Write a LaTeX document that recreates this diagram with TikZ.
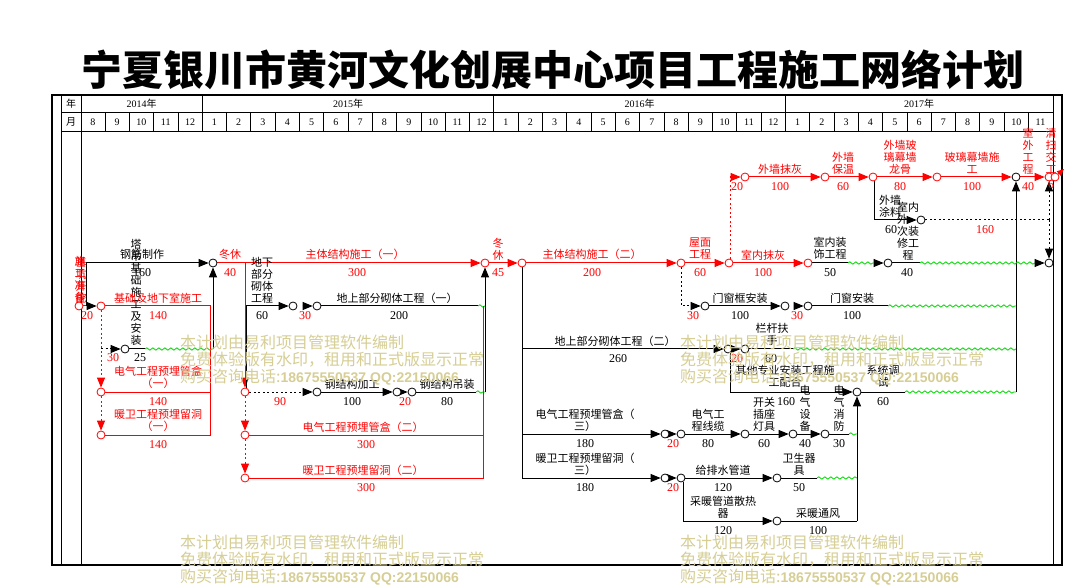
\documentclass[tikz,border=0pt]{standalone}
\usepackage{fontspec}
\setmainfont{Liberation Serif}
\newfontfamily\cjk{Noto Sans CJK SC}
\newfontfamily\wsans{Liberation Sans}
\usetikzlibrary{arrows.meta,decorations.pathmorphing}
\definecolor{wgreen}{RGB}{0,215,0}
\definecolor{wmark}{RGB}{214,206,148}
\pgfdeclarelayer{bg}
\pgfsetlayers{bg,main}
\tikzset{
  ev/.style={circle,fill=white,minimum size=8pt,inner sep=0pt,line width=0.8pt},
  evR/.style={ev,draw=red},
  evK/.style={ev,draw=black},
  lnK/.style={draw=black,line width=1pt},
  lnR/.style={draw=red,line width=1pt},
  tipK/.style={-{Triangle[length=10pt,width=8pt]}},
  arK/.style={lnK,tipK},
  arR/.style={lnR,tipK},
  dotK/.style={lnK,dash pattern=on 2pt off 2.5pt},
  dotR/.style={lnR,dash pattern=on 2pt off 2.5pt},
  wav/.style={draw=wgreen,line width=0.8pt,decorate,decoration={snake,segment length=6pt,amplitude=1.2pt}},
  lbK/.style={font=\cjk\fontsize{11}{12}\selectfont,align=center,inner sep=0pt,text=black},
  lbR/.style={lbK,text=red},
  nmK/.style={font=\fontsize{12}{12}\selectfont,inner sep=0pt,text=black},
  nmR/.style={nmK,text=red},
  hdr/.style={font=\fontsize{10}{10}\selectfont,inner sep=0pt},
  wm/.style={anchor=west,inner sep=0pt,text=wmark,font=\cjk\fontsize{16}{16}\selectfont},
  thinln/.style={line width=0.7pt},
  thickln/.style={line width=2.5pt},
}
\begin{document}
\begin{tikzpicture}[x=1pt,y=-1pt]
\useasboundingbox (0,0) rectangle (1066,585);
\begin{pgfonlayer}{bg}
\fill[white] (0,0) rectangle (1066,585);
\end{pgfonlayer}
% title
\node[font=\cjk\bfseries\fontsize{41}{41}\selectfont,inner sep=0pt] (title) at (553,70) {宁夏银川市黄河文化创展中心项目工程施工网络计划};
% frame
\draw[thickln] (51,95) -- (1063,95);
\draw[thickln] (52,95) -- (52,565);
\draw[thickln] (51,565) -- (1063,565);
\draw[line width=2pt] (1062,95) -- (1062,565);
\draw[thinln] (61,95) -- (61,565);
\draw[thinln] (81,95) -- (81,565);
\draw[thinln] (1053,95) -- (1053,565);
\draw[thinln] (61,112) -- (1053,112);
\draw[thinln] (61,131) -- (1053,131);
\foreach \k in {1,...,39} \draw[thinln] ({80.7+24.3*\k},112) -- ({80.7+24.3*\k},131);
\foreach \k in {5,17,29} \draw[thinln] ({80.7+24.3*\k},95) -- ({80.7+24.3*\k},112);
\node[hdr,font=\cjk\fontsize{10}{10}\selectfont] (hy) at (71,103.5) {年};
\node[hdr,font=\cjk\fontsize{10}{10}\selectfont] (hm) at (71,122) {月};
\node[hdr] (y14) at (141.5,103.5) {2014{\cjk 年}};
\node[hdr] (y15) at (348,103.5) {2015{\cjk 年}};
\node[hdr] (y16) at (639.6,103.5) {2016{\cjk 年}};
\node[hdr] (y17) at (919,103.5) {2017{\cjk 年}};
\foreach \m [count=\k from 0] in {8,9,10,11,12,1,2,3,4,5,6,7,8,9,10,11,12,1,2,3,4,5,6,7,8,9,10,11,12,1,2,3,4,5,6,7,8,9,10,11}
  \node[hdr] (mo\k) at ({92.85+24.3*\k},122) {\m};

% ---------- events ----------
\node[evR] (s0) at (79,306) {};
\node[evR] (s1) at (101,306) {};
\node[evR] (s2) at (101,392) {};
\node[evR] (s3) at (101,435) {};
\node[evK] (td) at (125,349) {};
\node[evK] (w1) at (213,263) {};
\node[evR] (r1) at (245,392) {};
\node[evR] (r2) at (245,435) {};
\node[evR] (r3) at (245,478) {};
\node[evK] (b1) at (293,306) {};
\node[evK] (b2) at (317,306) {};
\node[evK] (b3) at (317,392) {};
\node[evK] (b4) at (397,392) {};
\node[evK] (b5) at (412,392) {};
\node[evR] (m1) at (485,263) {};
\node[evR] (m2) at (522,263) {};
\node[evR] (m3) at (681,263) {};
\node[evR] (m4) at (729,263) {};
\node[evR] (m5) at (808,263) {};
\node[evK] (c1) at (888,263) {};
\node[evK] (c2) at (1049,263) {};
\node[evK] (d1) at (705,306) {};
\node[evK] (d2) at (785,306) {};
\node[evK] (d3) at (808,306) {};
\node[evK] (e1) at (728,349) {};
\node[evK] (e2) at (745,349) {};
\node[evK] (f1) at (857,392) {};
\node[evK] (g1) at (665,434) {};
\node[evK] (g2) at (681,434) {};
\node[evK] (g3) at (745,434) {};
\node[evK] (g4) at (793,434) {};
\node[evK] (g5) at (825,434) {};
\node[evK] (h1) at (665,478) {};
\node[evK] (h2) at (681,478) {};
\node[evK] (h3) at (777,478) {};
\node[evK] (i1) at (777,521) {};
\node[evR] (a1) at (745,177) {};
\node[evR] (a2) at (825,177) {};
\node[evR] (a3) at (873,177) {};
\node[evR] (a4) at (937,177) {};
\node[evK] (t4) at (1016,177) {};
\node[evR] (t5) at (1049,177) {};
\node[evR] (t6) at (1055,177) {};
\node[evK] (b6) at (921,220) {};

% ---------- coordinates ----------
\coordinate (gjS) at (86,306);
\coordinate (j1) at (210.5,306);
\coordinate (j2) at (210.5,435);
\coordinate (j3) at (213,349);
\coordinate (tdS) at (101,349);
\coordinate (tdE) at (145,349);
\coordinate (zt1) at (245,263);
\coordinate (k1) at (478,306);
\coordinate (k2) at (485,306);
\coordinate (k3) at (483.5,478);
\coordinate (k4) at (476,392);
\coordinate (k5) at (485,392);
\coordinate (v1) at (522,349);
\coordinate (v2) at (522,434);
\coordinate (v3) at (522,478);
\coordinate (q1) at (793,349);
\coordinate (q2) at (1016,349);
\coordinate (q3) at (905,392);
\coordinate (q4) at (1016,392);
\coordinate (q5) at (849,434);
\coordinate (q6) at (857,434);
\coordinate (q7) at (817,478);
\coordinate (q8) at (857,478);
\coordinate (q9) at (857,521);
\coordinate (q10) at (888,306);
\coordinate (q11) at (1016,306);
\coordinate (q12) at (848,263);
\coordinate (q13) at (875,263);
\coordinate (q14) at (920,263);
\coordinate (q15) at (1035,263);
\coordinate (k6) at (1049,220);

\begin{pgfonlayer}{bg}
% left part
\draw[lnR,-{Triangle[length=10pt,width=8pt,color=black]}] (s0) -- (s1);
\draw[arK] (gjS) |- (w1);
\draw[lnR] (s1) -- (j1) -- (j2);
\draw[dotR,tipK] (s1) -- (s2);
\draw[dotR,tipK] (s2) -- (s3);
\draw[dotK,tipK] (tdS) -- (td);
\draw[lnK] (td) -- (tdE);
\draw[wav] (tdE) -- (j3);
\draw[arK] (j3) -- (w1);
\draw[lnR] (s2) -- (s2 -| j1);
\draw[lnR] (s3) -- (j2);
\draw[arR] (w1) -| (r1);
\draw[arR] (zt1) -- (m1);
\draw[dotR,tipK] (r1) -- (r2);
\draw[dotR,tipK] (r2) -- (r3);
\draw[arK] ([xshift=1.8pt]r1.north) |- (b1);
\draw[arK] ([xshift=-10pt]b2.west) -- (b2);
\draw[lnK] (b2) -- (k1);
\draw[wav] (k1) -- (k2);
\draw[dotK,tipK] (r1) -- (b3);
\draw[arK] (b3) -- (b4);
\draw[arK] (b4) -- (b5);
\draw[lnK] (b5) -- (k4);
\draw[wav] (k4) -- (k5);
\draw[lnR] (r2) -- (r2 -| k3);
\draw[lnR] (r3) -- (k3);
\draw[lnR] (k3) -- (k3 |- k2);
\draw[arK] (k5) -- (m1);
% middle
\draw[arR] (m1) -- (m2);
\draw[arR] (m2) -- (m3);
\draw[lnK] (m2) -- (v3);
\draw[arK] (v1) -- (e1);
\draw[arK] (e1) -- (e2);
\draw[lnK] (e2) -- (q1);
\draw[wav] (q1) -- (q2);
\draw[arK] ([xshift=2pt]e1.south) |- (f1);
\draw[lnK] (f1) -- (q3);
\draw[wav] (q3) -- (q4);
\draw[arK] (v2) -- (g1);
\draw[arK] (g1) -- (g2);
\draw[arK] (g2) -- (g3);
\draw[arK] (g3) -- (g4);
\draw[arK] (g4) -- (g5);
\draw[lnK] (g5) -- (q5);
\draw[wav] (q5) -- (q6);
\draw[arK] (v3) -- (h1);
\draw[arK] (h1) -- (h2);
\draw[arK] (h2) -- (h3);
\draw[lnK] (h3) -- (q7);
\draw[wav] (q7) -- (q8);
\draw[arK] ([xshift=2pt]h2.south) |- (i1);
\draw[lnK] (i1) -- (q9);
\draw[arK] (q9) -- (f1);
% right part
\draw[arR] (m3) -- (m4);
\draw[dotK,tipK] (m3) |- (d1);
\draw[arK] (d1) -- (d2);
\draw[arK] ([xshift=-10pt]d3.west) -- (d3);
\draw[lnK] (d3) -- (q10);
\draw[wav] (q10) -- (q11);
\draw[arK] (q4) -- (t4);
\draw[arR] (m4) -- (m5);
\draw[lnK] (m5) -- (q12);
\draw[wav] (q12) -- (q13);
\draw[arK] (q13) -- (c1);
\draw[lnK] (c1) -- (q14);
\draw[wav] (q14) -- (q15);
\draw[arK] (q15) -- (c2);
\draw[dotR,tipK] ([xshift=1pt]m4.north) |- (a1);
\draw[arR] (a1) -- (a2);
\draw[arR] (a2) -- (a3);
\draw[arR] (a3) -- (a4);
\draw[arR] (a4) -- (t4);
\draw[arR] (t4) -- (t5);
\draw[lnR] (t5) -- (t6);
\draw[arK] ([xshift=1pt]a3.south) |- (b6);
\draw[dotK] (b6) -- (k6);
\draw[dotK,tipK] (k6) -- (t5);
\draw[dotK,tipK] (k6) -- (c2);
\end{pgfonlayer}
\draw[red,line width=1pt,-{Triangle[length=7pt,width=6pt]}] (t6) -- ++(9,-8);

% ---------- labels ----------
\node[lbR] (L1) at (80,279) {施\\工\\准\\备};
\node[lbR] (L2) at (81,280) {基\\坑\\开\\挖};
\node[lbK] (L3) at (142,254) {钢筋制作};
\node[nmK] (L4) at (142,273) {160};
\node[lbK] (L5) at (136,292) {塔\\吊\\基\\础\\施\\工\\及\\安\\装};
\node[nmK] (L6) at (140,358) {25};
\node[nmR] (L7) at (113,358) {30};
\node[lbR] (L8) at (158,298) {基础及地下室施工};
\node[nmR] (L9) at (158,316) {140};
\node[nmR] (L10) at (87,316) {20};
\node[lbR] (L11) at (158,377) {电气工程预埋管盒\\（一）};
\node[nmR] (L12) at (158,402) {140};
\node[lbR] (L13) at (158,420) {暖卫工程预埋留洞\\（一）};
\node[nmR] (L14) at (158,445) {140};
\node[lbR] (L15) at (230,254) {冬休};
\node[nmR] (L16) at (230,273) {40};
\node[lbK] (L17) at (262,280) {地下\\部分\\砌体\\工程};
\node[nmK] (L18) at (262,316) {60};
\node[nmR] (L19) at (305,316) {30};
\node[lbK] (L20) at (397,298) {地上部分砌体工程（一）};
\node[nmK] (L21) at (399,316) {200};
\node[lbR] (L22) at (355,254) {主体结构施工（一）};
\node[nmR] (L23) at (357,273) {300};
\node[nmR] (L24) at (280,402) {90};
\node[lbK] (L25) at (352,384) {钢结构加工};
\node[nmK] (L26) at (352,402) {100};
\node[nmR] (L27) at (405,402) {20};
\node[lbK] (L28) at (447,384) {钢结构吊装};
\node[nmK] (L29) at (447,402) {80};
\node[lbR] (L30) at (363,427) {电气工程预埋管盒（二）};
\node[nmR] (L31) at (366,445) {300};
\node[lbR] (L32) at (363,470) {暖卫工程预埋留洞（二）};
\node[nmR] (L33) at (366,488) {300};
\node[lbR] (L34) at (498,249) {冬\\休};
\node[nmR] (L35) at (498,273) {45};
\node[lbR] (L36) at (592,254) {主体结构施工（二）};
\node[nmR] (L37) at (592,273) {200};
\node[lbK] (L38) at (615,341) {地上部分砌体工程（二）};
\node[nmK] (L39) at (618,359) {260};
\node[nmR] (L40) at (737,359) {20};
\node[lbK] (L41) at (772,334) {栏杆扶\\手};
\node[nmK] (L42) at (771,359) {60};
\node[lbK] (L43) at (785,376) {其他专业安装工程施\\工配合};
\node[nmK] (L44) at (786,402) {160};
\node[lbK] (L45) at (883,376) {系统调\\试};
\node[nmK] (L46) at (883,402) {60};
\node[lbK] (L47) at (585,420) {电气工程预埋管盒（\\三）};
\node[nmK] (L48) at (585,444) {180};
\node[nmR] (L49) at (673,444) {20};
\node[lbK] (L50) at (708,420) {电气工\\程线缆};
\node[nmK] (L51) at (708,444) {80};
\node[lbK] (L52) at (764,414) {开关\\插座\\灯具};
\node[nmK] (L53) at (764,444) {60};
\node[lbK] (L54) at (805,408) {电\\气\\设\\备};
\node[nmK] (L55) at (805,444) {40};
\node[lbK] (L56) at (839,408) {电\\气\\消\\防};
\node[nmK] (L57) at (839,444) {30};
\node[lbK] (L58) at (585,464) {暖卫工程预埋留洞（\\三）};
\node[nmK] (L59) at (585,488) {180};
\node[nmR] (L60) at (673,488) {20};
\node[lbK] (L61) at (723,470) {给排水管道};
\node[nmK] (L62) at (723,488) {120};
\node[lbK] (L63) at (799,464) {卫生器\\具};
\node[nmK] (L64) at (799,488) {50};
\node[lbK] (L65) at (723,507) {采暖管道散热\\器};
\node[nmK] (L66) at (723,531) {120};
\node[lbK] (L67) at (818,513) {采暖通风};
\node[nmK] (L68) at (818,531) {100};
\node[nmR] (L69) at (693,316) {30};
\node[lbK] (L70) at (740,298) {门窗框安装};
\node[nmK] (L71) at (740,316) {100};
\node[nmR] (L72) at (797,316) {30};
\node[lbK] (L73) at (852,298) {门窗安装};
\node[nmK] (L74) at (852,316) {100};
\node[lbR] (L75) at (700,249) {屋面\\工程};
\node[nmR] (L76) at (700,273) {60};
\node[lbR] (L77) at (763,255) {室内抹灰};
\node[nmR] (L78) at (763,273) {100};
\node[lbK] (L79) at (830,248) {室内装\\饰工程};
\node[nmK] (L80) at (830,273) {50};
\node[lbK] (L81) at (908,231) {室内\\外\phantom{外}\\次装\\修工\\程};
\node[nmK] (L82) at (907,273) {40};
\node[nmR] (L83) at (737,187) {20};
\node[lbR] (L84) at (780,169) {外墙抹灰};
\node[nmR] (L85) at (780,187) {100};
\node[lbR] (L86) at (843,163) {外墙\\保温};
\node[nmR] (L87) at (843,187) {60};
\node[lbR] (L88) at (900,157) {外墙玻\\璃幕墙\\龙骨};
\node[nmR] (L89) at (900,187) {80};
\node[lbR] (L90) at (972,163) {玻璃幕墙施\\工};
\node[nmR] (L91) at (972,187) {100};
\node[lbR] (L92) at (1028,151) {室\\外\\工\\程};
\node[nmR] (L93) at (1028,187) {40};
\node[lbR] (L94) at (1051,151) {清\\扫\\交\\工};
\node[nmR] (L95) at (1051,185) {6};
\node[lbK] (L96) at (890,206) {外墙\\涂料};
\node[nmK] (L97) at (891,230) {60};
\node[nmR] (L98) at (985,230) {160};

% ---------- watermark ----------
\foreach \wx/\wy/\wn in {180/342/A,680/342/B,180/542/C,680/542/D} {
  \node[wm] (W\wn1) at (\wx,\wy) {本计划由易利项目管理软件编制};
  \node[wm] (W\wn2) at (\wx,\wy+17.5) {免费体验版有水印，租用和正式版显示正常};
  \node[wm] (W\wn3) at (\wx,\wy+35) {购买咨询电话:{\wsans\bfseries\fontsize{14}{14}\selectfont 18675550537 QQ:22150066}};
}
\end{tikzpicture}
\end{document}
